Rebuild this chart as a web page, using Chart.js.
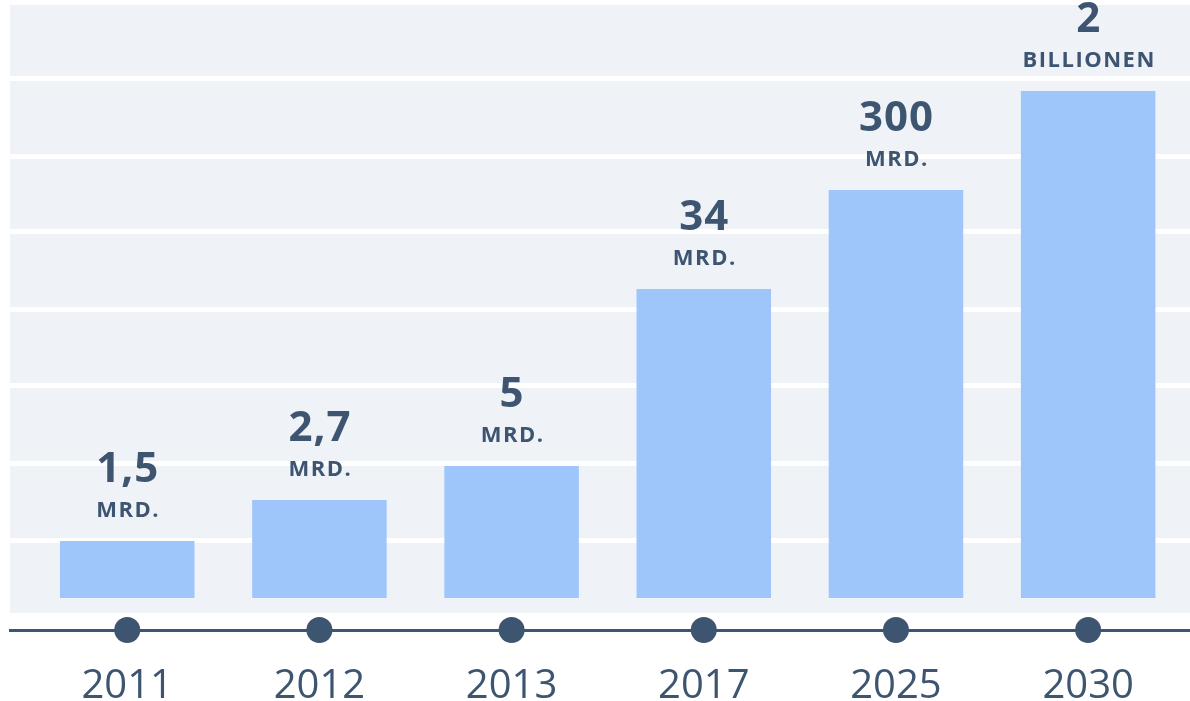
<!DOCTYPE html>
<html>
<head>
<meta charset="utf-8">
<script src="https://cdn.jsdelivr.net/npm/chart.js@4/dist/chart.umd.min.js"></script>
<style>
  body { margin: 0; background: #ffffff; }
</style>
</head>
<body>
<canvas id="myChart" width="1190" height="701"></canvas>
<script>
// categories and labels
const years = ["2011", "2012", "2013", "2017", "2025", "2030"];
const valueLabels = ["1,5", "2,7", "5", "34", "300", "2"];
const unitLabels = ["MRD.", "MRD.", "MRD.", "MRD.", "MRD.", "BILLIONEN"];
// bar heights as drawn (not to scale with the values)
const barHeights = [57, 98, 132, 309, 408, 507];
// white stripe positions on the same scale
const stripeTicks = [58, 135, 212, 289, 366, 442, 519];

const textColor = "#3d5571";
const fontFamily = "'Open Sans', 'DejaVu Sans', sans-serif";

const panelPlugin = {
  id: "panel",
  beforeDraw(chart) {
    const { ctx, chartArea, scales } = chart;
    const bottom = scales.y.getPixelForValue(-15);
    ctx.save();
    ctx.fillStyle = "#eff3f7";
    ctx.fillRect(chartArea.left, chartArea.top, chartArea.right - chartArea.left, bottom - chartArea.top);
    ctx.restore();
  },
};

const barLabelPlugin = {
  id: "barLabels",
  afterDatasetsDraw(chart) {
    const { ctx } = chart;
    const meta = chart.getDatasetMeta(0);
    ctx.save();
    ctx.fillStyle = textColor;
    ctx.textAlign = "center";
    ctx.textBaseline = "middle";
    meta.data.forEach((bar, i) => {
      ctx.font = "bold 42px " + fontFamily;
      ctx.letterSpacing = "1px";
      ctx.fillText(valueLabels[i], bar.x + 0.5, bar.y - 71);
      ctx.font = "bold 22px " + fontFamily;
      ctx.letterSpacing = "1.5px";
      ctx.fillText(unitLabels[i], bar.x + 1, bar.y - 30);
    });
    ctx.restore();
  },
};

const ctx = document.getElementById("myChart").getContext("2d");
const config = {
  data: {
    datasets: [
      {
        type: "bar",
        data: barHeights.map((h, i) => ({ x: i, y: h })),
        backgroundColor: "#9ec6fa",
        barPercentage: 0.7,
        categoryPercentage: 1,
        order: 2,
      },
      {
        type: "scatter",
        data: years.map((y, i) => ({ x: i, y: -32 })),
        pointRadius: 13,
        pointHoverRadius: 13,
        backgroundColor: "#3e5571",
        borderWidth: 0,
        clip: false,
        order: 1,
      },
    ],
  },
  options: {
    responsive: false,
    animation: false,
    layout: { autoPadding: false, padding: { top: 5, left: 10, right: 0, bottom: 0 } },
    plugins: {
      legend: { display: false },
      tooltip: { enabled: false },
    },
    scales: {
      x: {
        type: "linear",
        offset: false,
        min: -0.61,
        max: 5.53,
        afterFit: (s) => { s.height = 71; },
        afterBuildTicks: (s) => { s.ticks = years.map((y, i) => ({ value: i })); },
        grid: { display: false },
        border: { display: true, color: "#3e5571", width: 3 },
        ticks: {
          padding: 25,
          color: textColor,
          font: { family: fontFamily, size: 40 },
          callback: (v) => years[v],
        },
      },
      y: {
        type: "linear",
        min: -32,
        max: 593,
        afterFit: (s) => { s.width = 0; },
        afterBuildTicks: (s) => { s.ticks = stripeTicks.map((v) => ({ value: v })); },
        ticks: { display: false },
        border: { display: false },
        grid: { color: "#ffffff", lineWidth: 5, drawTicks: false },
      },
    },
  },
  plugins: [panelPlugin, barLabelPlugin],
};
const myChart = new Chart(ctx, config);
</script>
</body>
</html>
